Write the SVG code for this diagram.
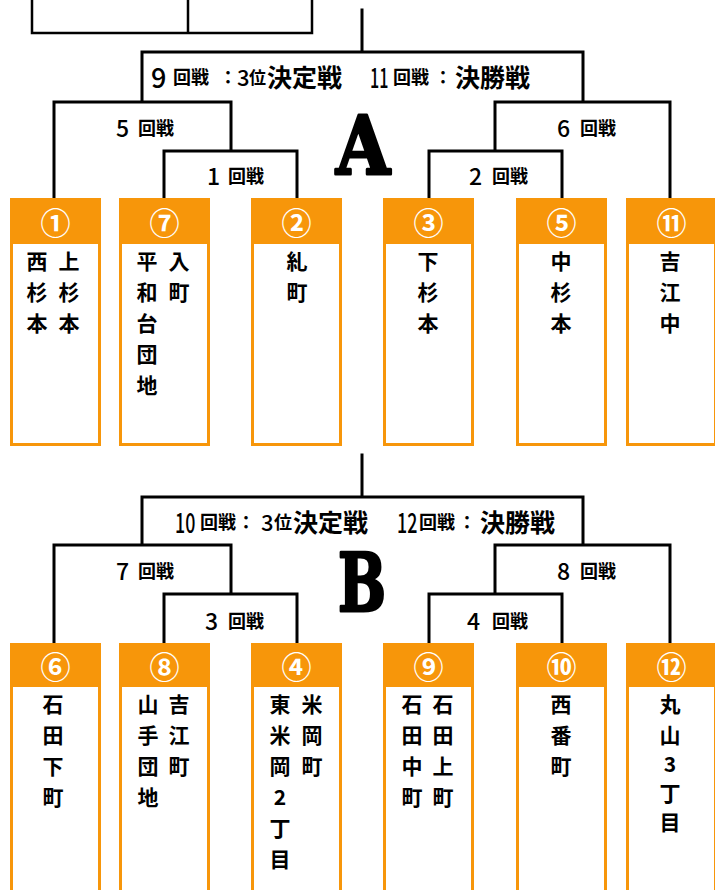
<svg xmlns="http://www.w3.org/2000/svg" width="715" height="890" viewBox="0 0 715 890">
<style>
.ln{fill:none;stroke:#000;stroke-width:3;stroke-linecap:square}
.box{fill:#F7960A}
.inner{fill:#fff}
.num{font-family:"Noto Sans CJK JP","Noto Sans",sans-serif;font-size:30px;font-weight:bold;fill:#fff;text-anchor:middle;dominant-baseline:central}
.v{font-family:"Noto Sans CJK JP",sans-serif;font-size:21px;font-weight:bold;fill:#000;text-anchor:middle;dominant-baseline:central}
.lbl{font-family:"Noto Sans CJK JP",sans-serif;font-weight:bold;fill:#000;dominant-baseline:central}
.dg{font-weight:500}
.big{font-family:"DejaVu Serif",serif;font-weight:bold;font-size:80px;fill:#000;stroke:#000;stroke-width:3;stroke-linejoin:round;text-anchor:middle}
</style>
<rect width="715" height="890" fill="#fff"/>
<g id="table-fragment"><path d="M32 -2 V33 H312 V-2 M188 -2 V33" fill="none" stroke="#000" stroke-width="2.5"/></g>
<g id="connectors">
<path class="ln" d="M362 10 V52 M142 102 V52 H583 V102 M54 200 V102 H231 V151 M164 200 V151 H297 V200 M670 200 V102 H495 V151 M429 200 V151 H562 V200"/>
<path class="ln" d="M362 455 V497 M142 545 V497 H583 V545 M54 643 V545 H231 V594 M164 643 V594 H297 V643 M670 643 V545 H495 V594 M429 643 V594 H562 V643"/>
</g>
<g id="labels-A">
<text class="lbl" y="76"><tspan class="dg" x="151" font-size="27">9</tspan><tspan x="173" font-size="18">回戦</tspan><tspan x="219" font-size="18">：</tspan><tspan class="dg" x="237" font-size="22">3</tspan><tspan x="249" font-size="17">位</tspan><tspan x="267" font-size="25">決定戦</tspan></text>
<text class="lbl dg" font-size="27" transform="translate(370 76) scale(0.6 1)">11</text>
<text class="lbl" y="76"><tspan x="393" font-size="18">回戦</tspan><tspan x="434" font-size="18">：</tspan><tspan x="455" font-size="25">決勝戦</tspan></text>
<text class="lbl" y="127"><tspan class="dg" x="116" font-size="23">5</tspan><tspan x="138" font-size="18">回戦</tspan></text>
<text class="lbl" y="175"><tspan class="dg" x="207" font-size="23">1</tspan><tspan x="228" font-size="18">回戦</tspan></text>
<text class="lbl" y="127"><tspan class="dg" x="557" font-size="23">6</tspan><tspan x="580" font-size="18">回戦</tspan></text>
<text class="lbl" y="175"><tspan class="dg" x="469" font-size="23">2</tspan><tspan x="492" font-size="18">回戦</tspan></text>
<text class="big" x="363" y="174" textLength="54" lengthAdjust="spacingAndGlyphs">A</text>
</g>
<g id="labels-B">
<text class="lbl dg" font-size="27" transform="translate(175 521) scale(0.66 1)">10</text>
<text class="lbl" y="521"><tspan x="200" font-size="18">回戦</tspan><tspan x="237" font-size="18">：</tspan><tspan class="dg" x="261" font-size="22">3</tspan><tspan x="274" font-size="18">位</tspan><tspan x="293" font-size="25">決定戦</tspan></text>
<text class="lbl dg" font-size="27" transform="translate(397 521) scale(0.66 1)">12</text>
<text class="lbl" y="521"><tspan x="419" font-size="18">回戦</tspan><tspan x="458" font-size="18">：</tspan><tspan x="480" font-size="25">決勝戦</tspan></text>
<text class="lbl" y="570"><tspan class="dg" x="116" font-size="23">7</tspan><tspan x="138" font-size="18">回戦</tspan></text>
<text class="lbl" y="620"><tspan class="dg" x="205" font-size="23">3</tspan><tspan x="228" font-size="18">回戦</tspan></text>
<text class="lbl" y="570"><tspan class="dg" x="557" font-size="23">8</tspan><tspan x="580" font-size="18">回戦</tspan></text>
<text class="lbl" y="620"><tspan class="dg" x="467" font-size="23">4</tspan><tspan x="492" font-size="18">回戦</tspan></text>
<text class="big" x="362" y="611" textLength="48" lengthAdjust="spacingAndGlyphs">B</text>
</g>
<g id="team1"><rect class="box" x="10" y="198" width="91" height="248"/><rect class="inner" x="13" y="244" width="85" height="199"/><text class="num" x="55.5" y="221">①</text>
<text class="v" x="37" y="260">西</text><text class="v" x="37" y="291">杉</text><text class="v" x="37" y="322">本</text>
<text class="v" x="69" y="260">上</text><text class="v" x="69" y="291">杉</text><text class="v" x="69" y="322">本</text></g>
<g id="team7"><rect class="box" x="119" y="198" width="91" height="248"/><rect class="inner" x="122" y="244" width="85" height="199"/><text class="num" x="164.5" y="221">⑦</text>
<text class="v" x="147" y="260">平</text><text class="v" x="147" y="291">和</text><text class="v" x="147" y="322">台</text><text class="v" x="147" y="353">団</text><text class="v" x="147" y="384">地</text>
<text class="v" x="179" y="260">入</text><text class="v" x="179" y="291">町</text></g>
<g id="team2"><rect class="box" x="251" y="198" width="91" height="248"/><rect class="inner" x="254" y="244" width="85" height="199"/><text class="num" x="296.5" y="221">②</text>
<text class="v" x="297" y="260">糺</text><text class="v" x="297" y="291">町</text></g>
<g id="team3"><rect class="box" x="383" y="198" width="91" height="248"/><rect class="inner" x="386" y="244" width="85" height="199"/><text class="num" x="428.5" y="221">③</text>
<text class="v" x="428" y="260">下</text><text class="v" x="428" y="291">杉</text><text class="v" x="428" y="322">本</text></g>
<g id="team5"><rect class="box" x="516" y="198" width="91" height="248"/><rect class="inner" x="519" y="244" width="85" height="199"/><text class="num" x="561.5" y="221">⑤</text>
<text class="v" x="561" y="260">中</text><text class="v" x="561" y="291">杉</text><text class="v" x="561" y="322">本</text></g>
<g id="team11"><rect class="box" x="626" y="198" width="91" height="248"/><rect class="inner" x="629" y="244" width="85" height="199"/><text class="num" x="671.5" y="221">⑪</text>
<text class="v" x="670" y="260">吉</text><text class="v" x="670" y="291">江</text><text class="v" x="670" y="322">中</text></g>
<g id="team6"><rect class="box" x="10" y="643" width="91" height="260"/><rect class="inner" x="13" y="687" width="85" height="220"/><text class="num" x="55.5" y="665">⑥</text>
<text class="v" x="53" y="703">石</text><text class="v" x="53" y="734">田</text><text class="v" x="53" y="765">下</text><text class="v" x="53" y="796">町</text></g>
<g id="team8"><rect class="box" x="119" y="643" width="91" height="260"/><rect class="inner" x="122" y="687" width="85" height="220"/><text class="num" x="164.5" y="665">⑧</text>
<text class="v" x="148" y="703">山</text><text class="v" x="148" y="734">手</text><text class="v" x="148" y="765">団</text><text class="v" x="148" y="796">地</text>
<text class="v" x="179" y="703">吉</text><text class="v" x="179" y="734">江</text><text class="v" x="179" y="765">町</text></g>
<g id="team4"><rect class="box" x="251" y="643" width="91" height="260"/><rect class="inner" x="254" y="687" width="85" height="220"/><text class="num" x="296.5" y="665">④</text>
<text class="v" x="280" y="703">東</text><text class="v" x="280" y="734">米</text><text class="v" x="280" y="765">岡</text><text class="v" x="280" y="796">2</text><text class="v" x="280" y="827">丁</text><text class="v" x="280" y="858">目</text>
<text class="v" x="312" y="703">米</text><text class="v" x="312" y="734">岡</text><text class="v" x="312" y="765">町</text></g>
<g id="team9"><rect class="box" x="383" y="643" width="91" height="260"/><rect class="inner" x="386" y="687" width="85" height="220"/><text class="num" x="428.5" y="665">⑨</text>
<text class="v" x="412" y="703">石</text><text class="v" x="412" y="734">田</text><text class="v" x="412" y="765">中</text><text class="v" x="412" y="796">町</text>
<text class="v" x="443" y="703">石</text><text class="v" x="443" y="734">田</text><text class="v" x="443" y="765">上</text><text class="v" x="443" y="796">町</text></g>
<g id="team10"><rect class="box" x="516" y="643" width="91" height="260"/><rect class="inner" x="519" y="687" width="85" height="220"/><text class="num" x="561.5" y="665">⑩</text>
<text class="v" x="561" y="703">西</text><text class="v" x="561" y="734">番</text><text class="v" x="561" y="765">町</text></g>
<g id="team12"><rect class="box" x="626" y="643" width="91" height="260"/><rect class="inner" x="629" y="687" width="85" height="220"/><text class="num" x="671.5" y="665">⑫</text>
<text class="v" x="670" y="703">丸</text><text class="v" x="670" y="734">山</text><text class="v" x="670" y="763">3</text><text class="v" x="670" y="792">丁</text><text class="v" x="670" y="821">目</text></g>
</svg>
